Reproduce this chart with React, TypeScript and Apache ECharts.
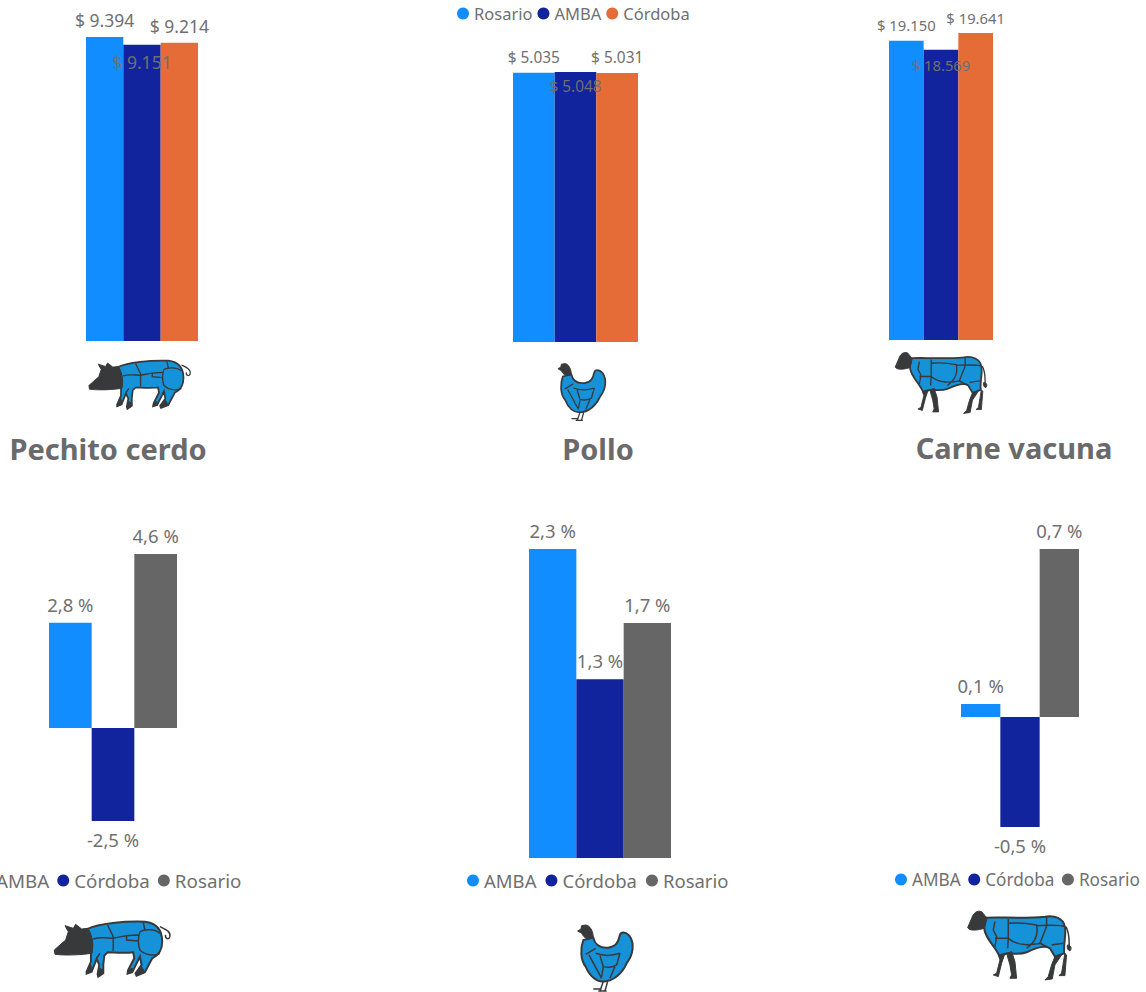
import React, { useEffect, useRef } from "react";
import * as echarts from "echarts";

const topNames = ["Rosario", "AMBA", "Córdoba"];
const bottomNames = ["AMBA", "Córdoba", "Rosario"];
const topColors = ["#118DFF", "#12239E", "#E66C37"];
const bottomColors = ["#118DFF", "#12239E", "#666666"];

const pechitoPrecios = [9394, 9151, 9214];
const polloPrecios = [5035, 5048, 5031];
const vacunaPrecios = [19150, 18569, 19641];
const pechitoVariacion = [2.78, -2.46, 4.6];
const polloVariacion = [2.3, 1.33, 1.749];
const vacunaVariacion = [0.054, -0.458, 0.7];
const productos = ["Pechito cerdo", "Pollo", "Carne vacuna"];

const FONT = "'Noto Sans', sans-serif";
const GRAY = "#707070";
const BLUE = "#1592D8";
const DARK = "#38393B";

const paths: Record<string, string> = {
  pigBody: "M128 42 C160 25 240 18 300 20 C335 24 352 45 352 80 C352 105 338 122 322 130 L300 172 L275 182 L272 175 L290 150 L285 125 L262 172 L248 176 L250 165 L268 130 L265 112 C235 116 205 112 188 112 L178 122 L175 150 L175 175 L160 185 L158 178 L163 150 L155 132 L140 170 L125 176 L125 170 L138 140 L138 118 C145 100 140 60 128 42 Z",
  pigDark: "M128 40 L110 42 L92 28 L85 40 L60 32 L70 50 L62 75 L28 105 L30 118 C60 122 110 120 140 115 C148 90 142 60 128 40 Z M138 150 L140 170 L125 176 L125 170 Z M163 160 L175 165 L175 175 L160 185 L158 178 Z M262 160 L262 172 L248 176 L250 165 Z M290 155 L300 172 L275 182 L272 175 Z",
  pigLines: "M188 30 L205 65 L205 108 M145 72 C165 65 190 70 205 70 M205 70 C225 65 245 60 280 60 M295 22 L300 45 M285 50 C278 70 280 90 285 105 C300 120 330 125 345 115 M285 50 C300 42 330 42 345 55 M245 62 L245 75 L280 78 M155 130 L165 115 M345 35 C365 45 378 50 375 65 C372 75 360 72 362 60",
  henBody: "M55 75 C46 100 46 135 62 155 C75 185 95 200 112 200 C145 200 172 175 185 145 C205 120 210 85 193 62 C182 50 168 50 165 60 C160 80 155 95 130 98 C105 100 90 90 85 68 Z",
  henDark: "M85 68 C65 75 58 70 50 55 L38 48 L48 42 L50 32 L62 30 C75 30 85 50 85 68 Z",
  henLines: "M62 118 C75 110 85 105 92 100 M92 115 C120 125 150 120 165 115 M105 122 L115 155 C130 158 145 158 155 150 L165 115 M72 120 L110 190 M115 155 L110 185 M150 155 L135 190 M115 200 L105 228 M128 200 L120 228 M85 222 L110 222 M100 228 L125 228",
  cowBody: "M95 38 C130 35 200 42 270 35 C300 30 325 40 330 65 C335 90 325 115 328 145 L300 155 L285 130 C270 120 240 130 215 142 C195 150 170 145 155 145 L135 155 L120 130 C105 110 85 85 88 65 Z",
  cowDark: "M95 38 L80 20 C65 15 55 25 50 40 L38 68 C45 80 70 75 88 70 Z M130 150 L135 165 L125 205 L115 210 L130 215 L140 175 L150 145 Z M155 145 L165 180 L170 210 L165 220 L185 220 L180 170 L170 140 Z M300 155 L290 180 L280 215 L270 225 L292 222 L300 180 L320 150 Z M330 145 L325 175 L320 205 L312 212 L330 212 L335 150 Z M338 120 C348 120 352 130 345 138 C338 135 335 128 338 120 Z",
  cowLines: "M160 42 L160 100 L158 130 M120 50 L115 75 L125 95 L120 125 M160 55 C190 52 220 55 245 60 C250 85 245 110 215 130 M245 62 C260 62 320 58 328 65 M275 35 L275 65 L255 115 L285 130 M120 100 L160 100 C190 125 225 120 260 115 M290 120 L325 115 M333 65 C345 85 342 110 343 125",
};
Object.keys(paths).forEach((k) =>
  echarts.graphic.registerShape(k, echarts.graphic.extendPath(paths[k], {}))
);

const precio = (v: number) => "$ " + String(v).replace(/\B(?=(\d{3})+$)/g, ".");
const pct = (v: number) => v.toFixed(1).replace(".", ",") + " %";

function animal(kind: string, x: number, y: number, s: number) {
  return {
    type: "group",
    x,
    y,
    scaleX: s,
    scaleY: s,
    silent: true,
    children: [
      { type: kind + "Body", style: { fill: BLUE, stroke: DARK, lineWidth: 6 } },
      { type: kind + "Dark", style: { fill: DARK, stroke: DARK, lineWidth: 3 } },
      { type: kind + "Lines", style: { fill: "none", stroke: DARK, lineWidth: 4.5 } },
    ],
  };
}

export default function App() {
  const ref = useRef<HTMLDivElement>(null);
  useEffect(() => {
    document.body.style.margin = "0";
    const chart = echarts.init(ref.current!, undefined, { renderer: "svg" });

    const panels = [
      { vals: pechitoPrecios, names: topNames, colors: topColors, left: 86, w: 112, top: 37, h: 304, min: 0, max: 9394, fs: 17.5, fmt: precio, inner: 1, innerDist: 8, dist: 8 },
      { vals: polloPrecios, names: topNames, colors: topColors, left: 513, w: 125, top: 72, h: 270, min: 0, max: 5048, fs: 15.4, fmt: precio, inner: 1, innerDist: 7, dist: 8 },
      { vals: vacunaPrecios, names: topNames, colors: topColors, left: 889, w: 104, top: 33, h: 307, min: 0, max: 19641, fs: 14.8, fmt: precio, inner: 1, innerDist: 8, dist: 8 },
      { vals: pechitoVariacion, names: bottomNames, colors: bottomColors, left: 49, w: 128, top: 554, h: 267, min: -2.46, max: 4.6, fs: 18.5, fmt: pct, inner: -1, innerDist: 0, dist: 9 },
      { vals: polloVariacion, names: bottomNames, colors: bottomColors, left: 529, w: 142, top: 549, h: 309, min: 0, max: 2.3, fs: 18.5, fmt: pct, inner: -1, innerDist: 0, dist: 9 },
      { vals: vacunaVariacion, names: bottomNames, colors: bottomColors, left: 961, w: 118, top: 549, h: 278, min: -0.458, max: 0.7, fs: 18.5, fmt: pct, inner: -1, innerDist: 0, dist: 9 },
    ];

    const grid = panels.map((p) => ({ left: p.left, width: p.w, top: p.top, height: p.h }));
    const xAxis = panels.map((_, i) => ({ type: "category", data: ["x"], gridIndex: i, show: false }));
    const yAxis = panels.map((p, i) => ({ type: "value", gridIndex: i, min: p.min, max: p.max, show: false }));
    const series: any[] = [];
    panels.forEach((p, pi) => {
      p.vals.forEach((v, si) => {
        const isInner = p.inner === si;
        series.push({
          type: "bar",
          name: p.names[si],
          xAxisIndex: pi,
          yAxisIndex: pi,
          barGap: 0,
          barCategoryGap: 0,
          data: [v],
          itemStyle: { color: p.colors[si] },
          label: {
            show: true,
            position: isInner ? "insideTop" : v < 0 ? "bottom" : "top",
            distance: isInner ? p.innerDist : p.dist,
            color: GRAY,
            fontFamily: FONT,
            fontSize: p.fs,
            formatter: () => p.fmt(v),
          },
        });
      });
    });

    const legendOf = (names: string[], colors: string[], left: number, top: number, fontSize: number, itemGap: number) => ({
      left,
      top,
      padding: 0,
      itemGap,
      itemWidth: 12,
      itemHeight: 12,
      icon: "circle",
      selectedMode: false,
      textStyle: { color: GRAY, fontFamily: FONT, fontSize },
      data: names.map((name, i) => ({ name, itemStyle: { color: colors[i] } })),
    });

    const titleOf = (text: string, left: number, top: number) => ({
      text,
      left,
      top,
      textAlign: "center",
      padding: 0,
      textStyle: { color: "#6a6a6a", fontFamily: FONT, fontSize: 29, fontWeight: "bold" },
    });

    chart.setOption({
      animation: false,
      title: [titleOf(productos[0], 108, 434), titleOf(productos[1], 598, 434), titleOf(productos[2], 1014, 433)],
      legend: [
        legendOf(topNames, topColors, 457, 5, 16.5, 5),
        legendOf(bottomNames, bottomColors, -21, 871, 18.8, 8),
        legendOf(bottomNames, bottomColors, 467, 871, 18.5, 9),
        legendOf(bottomNames, bottomColors, 895, 871, 17.2, 7.5),
      ],
      grid,
      xAxis,
      yAxis,
      series,
      graphic: [
        animal("pig", 80.7, 354.8, 0.2917),
        animal("hen", 547, 355, 0.2867),
        animal("cow", 884, 347, 0.295),
        animal("pig", 45, 915, 0.3333),
        animal("hen", 565, 915, 0.3333),
        animal("cow", 955, 905, 0.3333),
      ],
    });
    return () => chart.dispose();
  }, []);
  return <div ref={ref} style={{ width: 1146, height: 992 }} />;
}
